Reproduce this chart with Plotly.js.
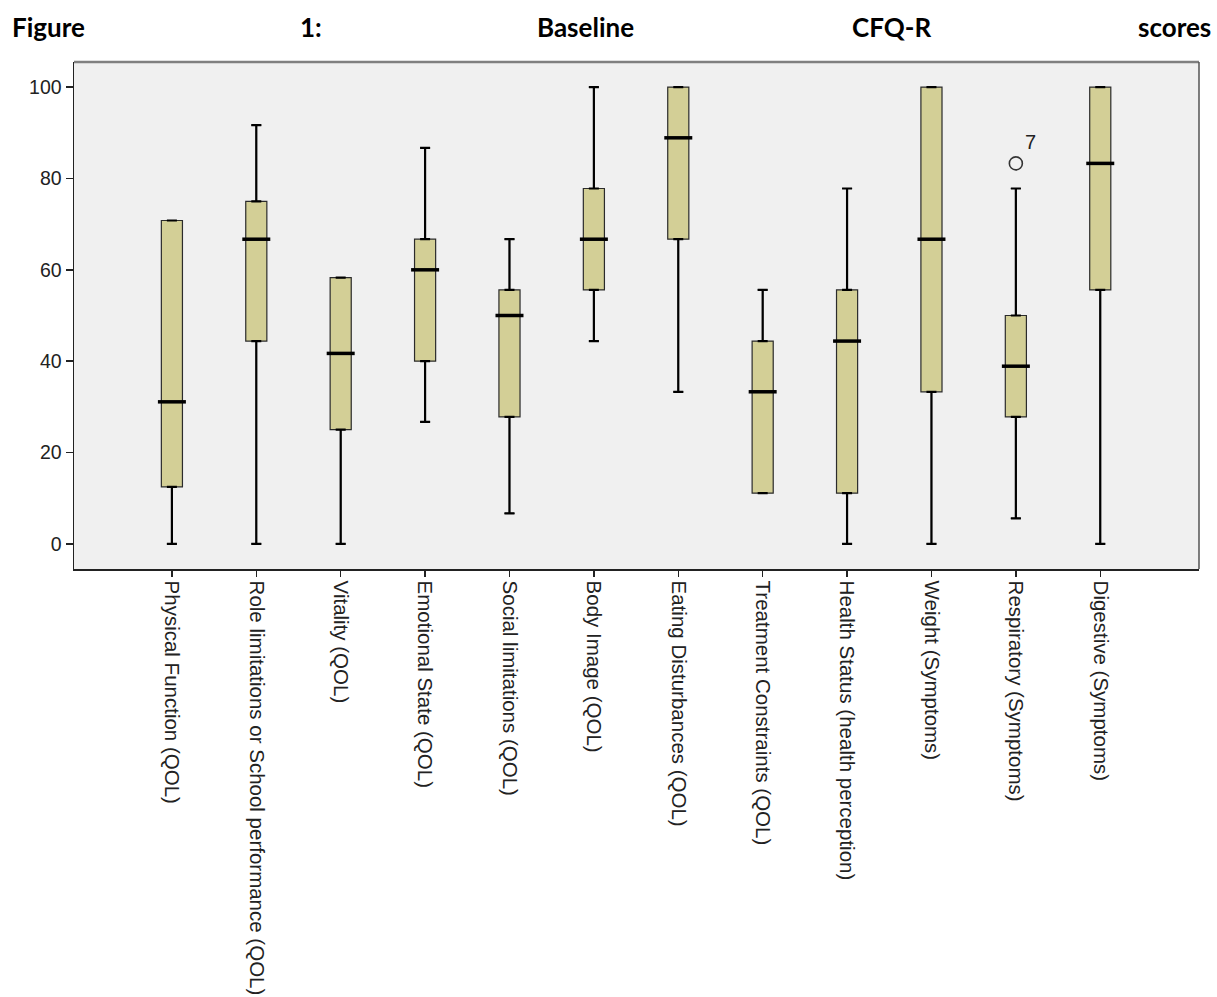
<!DOCTYPE html>
<html>
<head>
<meta charset="utf-8">
<script src="https://cdn.plot.ly/plotly-3.0.1.min.js"></script>
<style>html,body{margin:0;padding:0;background:#fff;}#chart{width:1217px;height:997px;}</style>
</head>
<body>
<div id="chart"></div>
<script>
const categories = [
  "Physical Function (QOL)",
  "Role limitations or School performance (QOL)",
  "Vitality (QOL)",
  "Emotional State (QOL)",
  "Social limitations (QOL)",
  "Body Image (QOL)",
  "Eating Disturbances (QOL)",
  "Treatment Constraints (QOL)",
  "Health Status (health perception)",
  "Weight (Symptoms)",
  "Respiratory (Symptoms)",
  "Digestive (Symptoms)"
];
const lowerWhisker = [0, 0, 0, 26.7, 6.7, 44.4, 33.3, 11.1, 0, 0, 5.6, 0];
const q1Values     = [12.5, 44.4, 25.0, 40.0, 27.8, 55.6, 66.7, 11.1, 11.1, 33.3, 27.8, 55.6];
const medianValues = [31.1, 66.7, 41.7, 60.0, 50.0, 66.7, 88.9, 33.3, 44.4, 66.7, 38.9, 83.3];
const q3Values     = [70.8, 75.0, 58.3, 66.7, 55.6, 77.8, 100, 44.4, 55.6, 100, 50.0, 100];
const upperWhisker = [70.8, 91.7, 58.3, 86.7, 66.7, 100, 100, 55.6, 77.8, 100, 77.8, 100];
const outlierCategory = ["Respiratory (Symptoms)"];
const outlierValues = [83.3];
const outlierLabels = ["7"];
const yTicks = [0, 20, 40, 60, 80, 100];
const titleWords = ["Figure", "1:", "Baseline", "CFQ-R", "scores"];

const fontFam = '"Liberation Sans", Arial, sans-serif';

const boxTrace = {
  type: 'box',
  x: categories,
  q1: q1Values,
  median: medianValues,
  q3: q3Values,
  lowerfence: lowerWhisker,
  upperfence: upperWhisker,
  boxpoints: false,
  width: 0.25,
  whiskerwidth: 0.48,
  fillcolor: '#d3cf96',
  line: {color: '#2b2b2b', width: 1.2},
  hoverinfo: 'skip',
  showlegend: false
};

const upperDiff = upperWhisker.map((u, i) => u - q3Values[i]);
const lowerDiff = q1Values.map((q, i) => q - lowerWhisker[i]);

const upperWhiskerTrace = {
  type: 'scatter', mode: 'markers',
  x: categories, y: q3Values,
  marker: {size: 1, color: 'rgba(0,0,0,0)'},
  error_y: {type: 'data', symmetric: false, array: upperDiff, arrayminus: upperDiff.map(() => 0),
            color: '#000', thickness: 2.2, width: 5},
  hoverinfo: 'skip', showlegend: false
};
const lowerWhiskerTrace = {
  type: 'scatter', mode: 'markers',
  x: categories, y: q1Values,
  marker: {size: 1, color: 'rgba(0,0,0,0)'},
  error_y: {type: 'data', symmetric: false, array: lowerDiff.map(() => 0), arrayminus: lowerDiff,
            color: '#000', thickness: 2.2, width: 5},
  hoverinfo: 'skip', showlegend: false
};

const medianTrace = {
  type: 'scatter', mode: 'markers',
  x: categories, y: medianValues,
  marker: {symbol: 'line-ew', size: 20, color: '#000', line: {color: '#000', width: 3.5}},
  hoverinfo: 'skip', showlegend: false
};

const outlierTrace = {
  type: 'scatter', mode: 'markers+text',
  x: outlierCategory, y: outlierValues,
  text: outlierLabels,
  textposition: 'top right',
  textfont: {family: fontFam, size: 20, color: '#222'},
  marker: {symbol: 'circle-open', size: 13, color: '#333', line: {color: '#333', width: 1.6}},
  hoverinfo: 'skip', showlegend: false
};

const titleX = [10, 298, 535, 850, 1213];
const plotLeft = 74, plotW = 1199 - 74;
const annotations = titleWords.map((w, i) => ({
  text: '<b>' + w + '</b>',
  xref: 'paper', yref: 'paper',
  x: (titleX[i] - plotLeft) / plotW,
  y: (569 - 27) / 507,
  xanchor: i === titleWords.length - 1 ? 'right' : 'left',
  yanchor: 'middle',
  showarrow: false,
  font: {family: 'Lato, "Liberation Sans", sans-serif', size: 26, color: '#000'}
}));

const layout = {
  width: 1217, height: 997,
  margin: {l: 74, r: 18, t: 62, b: 428},
  paper_bgcolor: '#ffffff',
  plot_bgcolor: '#f0f0f0',
  showlegend: false,
  annotations: annotations,
  xaxis: {
    type: 'category',
    categoryorder: 'array', categoryarray: categories,
    range: [-1.16, 12.17],
    showgrid: false, zeroline: false,
    showline: true, linecolor: '#222', linewidth: 1.5,
    ticks: 'outside', ticklen: 6, tickwidth: 1.5, tickcolor: '#222',
    tickangle: 90,
    tickfont: {family: fontFam, size: 20.5, color: '#222'}
  },
  yaxis: {
    range: [-5.5, 105.5],
    tickvals: yTicks,
    showgrid: false, zeroline: false,
    showline: true, linecolor: '#222', linewidth: 1.5,
    ticks: 'outside', ticklen: 7, tickwidth: 1.5, tickcolor: '#222',
    tickfont: {family: fontFam, size: 19.5, color: '#222'}
  },
  shapes: [
    {type: 'line', xref: 'paper', yref: 'paper', x0: 0, x1: 1, y0: 1, y1: 1, line: {color: '#808080', width: 2.5}},
    {type: 'line', xref: 'paper', yref: 'paper', x0: 1, x1: 1, y0: 0, y1: 1, line: {color: '#555', width: 1.5}}
  ]
};

Plotly.newPlot('chart', [boxTrace, upperWhiskerTrace, lowerWhiskerTrace, medianTrace, outlierTrace], layout, {staticPlot: true, displayModeBar: false});
</script>
</body>
</html>
